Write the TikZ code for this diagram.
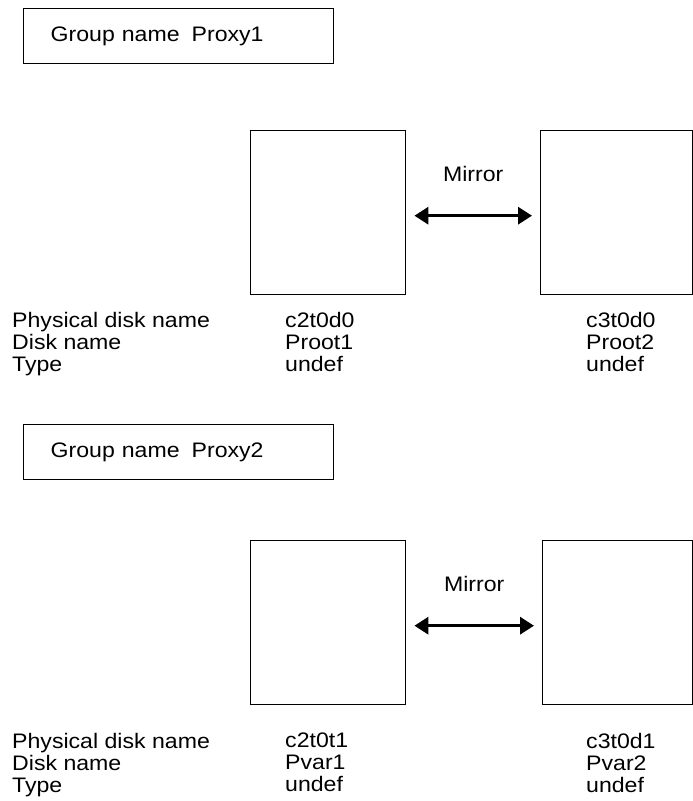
\documentclass[tikz,border=0pt]{standalone}
\usepackage{fontspec}
\setmainfont{Liberation Sans}[FakeStretch=1.1]
\usetikzlibrary{arrows.meta, positioning}

\begin{document}
\begin{tikzpicture}[x=1pt, y=-1pt,
    font=\fontsize{21}{22}\selectfont,
    group/.style={draw, line width=1.4pt, minimum width=310pt, minimum height=55pt,
                  text width=256pt, inner xsep=27pt, align=left, anchor=north west},
    disk/.style={draw, line width=1.4pt, minimum width=#1, minimum height=164pt,
                 inner sep=0pt, anchor=north west},
    disk/.default=155pt,
    info/.style={align=left, inner sep=0pt, anchor=north west},
    mirror/.style={{Triangle[length=14pt,width=17pt]}-{Triangle[length=14pt,width=17pt]},
                   line width=3.2pt, shorten <=8pt, shorten >=8pt},
    lbl/.style={midway, yshift=42pt}
]
\useasboundingbox (0,0) rectangle (693,801);

% group Proxy1
\node[group]     (proxy1) at (23,8)    {Group name\hspace{5pt} Proxy1};
\node[disk]      (proot1) at (250,130) {};
\node[disk=152pt](proot2) at (540,130) {};
\draw[mirror] ([yshift=-3pt]proot1.east) -- ([yshift=-3pt]proot2.west) node[lbl] {Mirror};

\node[info] (keys1) at (12,312)  {Physical disk name\\Disk name\\Type};
\node[info] (vals1) at (285,312) {c2t0d0\\Proot1\\undef};
\node[info] (vals2) at (586,312) {c3t0d0\\Proot2\\undef};

% group Proxy2
\node[group]     (proxy2) at (23,424)  {Group name\hspace{5pt} Proxy2};
\node[disk]      (pvar1)  at (250,540) {};
\node[disk=150pt](pvar2)  at (542,540) {};
\draw[mirror] ([yshift=-3pt]pvar1.east) -- ([yshift=-3pt]pvar2.west) node[lbl] {Mirror};

\node[info] (keys2) at (12,733)  {Physical disk name\\Disk name\\Type};
\node[info] (vals3) at (285,733) {c2t0t1\\Pvar1\\undef};
\node[info] (vals4) at (586,733) {c3t0d1\\Pvar2\\undef};
\end{tikzpicture}
\end{document}
